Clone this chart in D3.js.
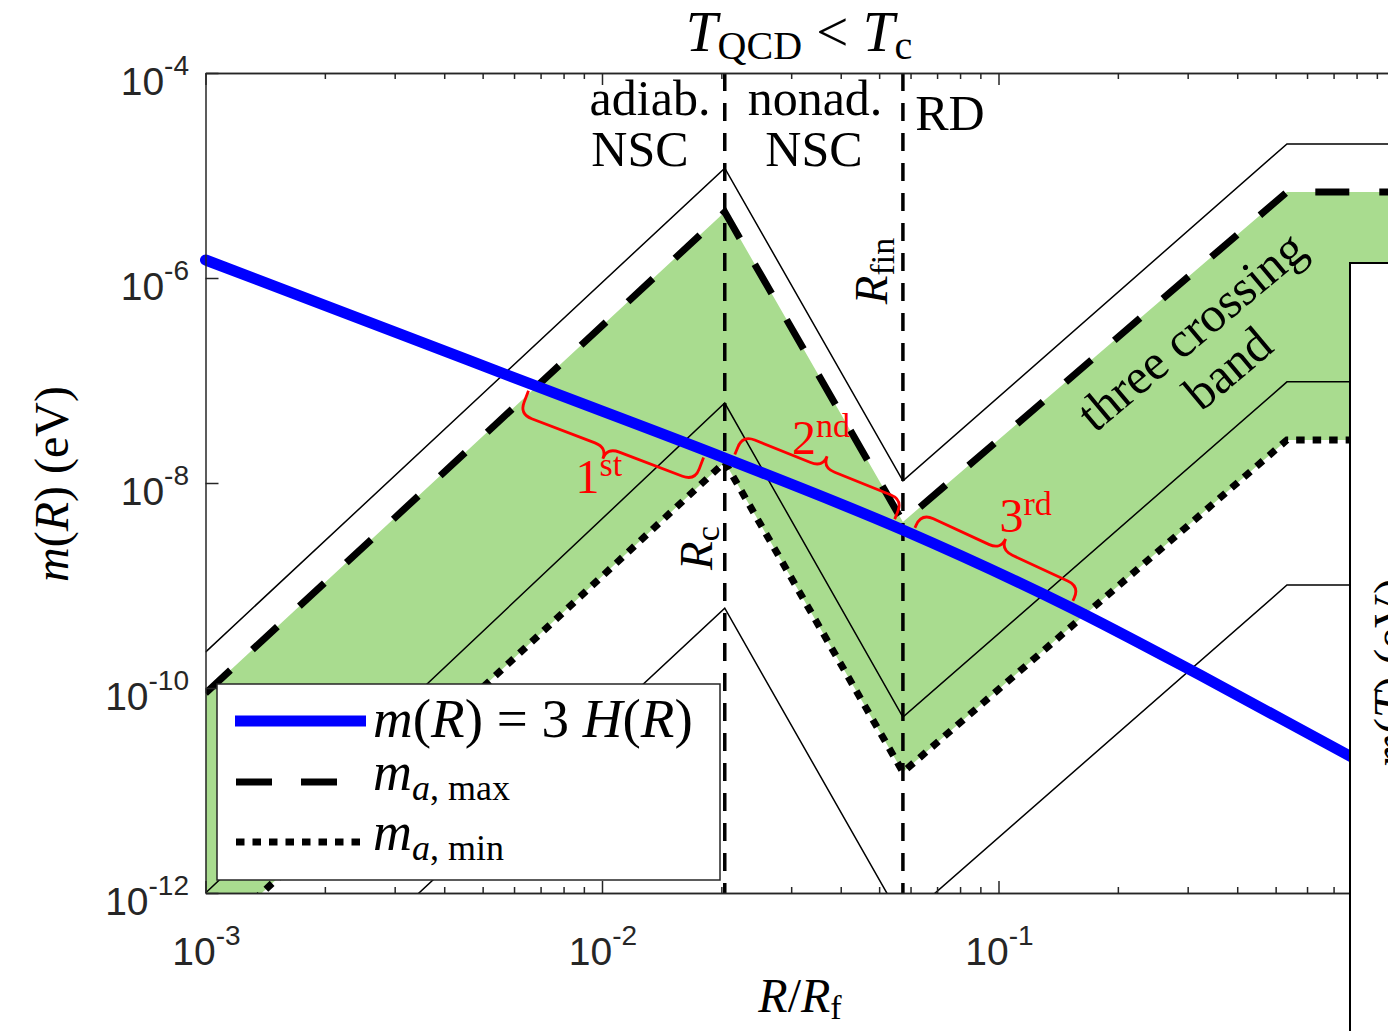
<!DOCTYPE html>
<html>
<head>
<meta charset="utf-8">
<script src="https://cdn.jsdelivr.net/npm/d3@7"></script>
<style>
  body { margin: 0; background: #fff; }
  svg { display: block; }
</style>
</head>
<body>
<svg id="chart" width="1388" height="1031"></svg>
<script>
// ---- tick marks ----
const xTickValues = [1e-3, 1e-2, 1e-1];
const xTickExponents = ["-3", "-2", "-1"];
const yTickValues = [1e-4, 1e-6, 1e-8, 1e-10, 1e-12];
const yTickExponents = ["-4", "-6", "-8", "-10", "-12"];

// ---- characteristic radii (in units of R_f) ----
const R_c = 0.0204;
const R_fin = 0.0574;
const R_sat = 0.534;
const kinkR = [1e-3, R_c, R_fin, R_sat, 1];

// ---- axion mass bounds and guide curves at the kink radii (eV) ----
const mMax = [8.9e-11, 4.4e-6, 4.17e-9, 6.9e-6, 6.9e-6];
const mMin = [3.08e-13, 1.6e-8, 1.51e-11, 2.63e-8, 2.63e-8];
const guideUpper = [2.24e-10, 1.18e-5, 1.05e-8, 2.03e-5, 2.03e-5];
const guideMiddle = [1.0e-12, 6.03e-8, 5.2e-11, 9.7e-8, 9.7e-8];
const guideLower = [1.15e-14, 6.0e-10, 5.3e-13, 1.01e-9, 1.01e-9];

// ---- m(R) = 3 H(R) ----
const hubbleR = [1e-3, 3.1e-3, 6.6e-3, 0.0204, 0.0574, 0.151, 0.322, 0.769, 1];
const hubbleM = [1.50e-6, 2.84e-7, 9.25e-8, 1.75e-8, 3.48e-9, 6.17e-10, 1.34e-10, 2.17e-11, 1.26e-11];

// ---- crossing braces along the 3H line ----
const braceNames = ["1", "2", "3"];
const braceSups = ["st", "nd", "rd"];
const braceStartR = [6.62e-3, 0.0213, 0.0605];
const braceEndR = [0.0183, 0.0539, 0.1514];
const braceSide = ["below", "above", "above"];

// ---------------------------------------------------------------
const svg = d3.select("#chart");
const plotL = 205.5, plotR = 1395, plotT = 73, plotB = 893;
const x = d3.scaleLog().domain([1e-3, 1]).range([plotL, plotR]);
const y = d3.scaleLog().domain([1e-12, 1e-4]).range([plotB, plotT]);

const serif = "'Liberation Serif','Times New Roman',serif";
const sans = "'Liberation Sans',Arial,Helvetica,sans-serif";
const axisColor = "#262626";
const bandGreen = "#a9dc8f";

svg.append("rect").attr("width", 1388).attr("height", 1031).attr("fill", "#fff");

svg.append("defs").append("clipPath").attr("id", "plotClip")
  .append("rect").attr("x", plotL).attr("y", plotT)
  .attr("width", plotR - plotL).attr("height", plotB - plotT);

const plot = svg.append("g").attr("clip-path", "url(#plotClip)");

// shaded band between the upper and lower mass bound
const band = kinkR.map((r, i) => ({ r, hi: mMax[i], lo: mMin[i] }));
plot.append("path").datum(band)
  .attr("d", d3.area().x(d => x(d.r)).y0(d => y(d.lo)).y1(d => y(d.hi)))
  .attr("fill", bandGreen);

const kinkLine = d3.line().x(d => x(d[0])).y(d => y(d[1]));
const pairs = arr => kinkR.map((r, i) => [r, arr[i]]);

// thin guide curves
[guideUpper, guideMiddle, guideLower].forEach(g => {
  plot.append("path").datum(pairs(g)).attr("d", kinkLine)
    .attr("fill", "none").attr("stroke", "#000").attr("stroke-width", 1.5);
});

// vertical markers at R_c and R_fin
[R_c, R_fin].forEach(r => {
  plot.append("line").attr("x1", x(r)).attr("x2", x(r))
    .attr("y1", plotT).attr("y2", plotB)
    .attr("stroke", "#000").attr("stroke-width", 3.5)
    .attr("stroke-dasharray", "18,12");
});

// bounds
plot.append("path").datum(pairs(mMax)).attr("d", kinkLine)
  .attr("fill", "none").attr("stroke", "#000").attr("stroke-width", 7)
  .attr("stroke-dasharray", "34,30");
plot.append("path").datum(pairs(mMin)).attr("d", kinkLine)
  .attr("fill", "none").attr("stroke", "#000").attr("stroke-width", 7)
  .attr("stroke-dasharray", "8.5,8");

// 3H line
const hubble = hubbleR.map((r, i) => [r, hubbleM[i]]);
svg.append("path").datum(hubble)
  .attr("d", d3.line().x(d => x(d[0])).y(d => y(d[1])).curve(d3.curveMonotoneX))
  .attr("fill", "none").attr("stroke", "#0000ff").attr("stroke-width", 11)
  .attr("stroke-linecap", "round");

// ---- axes ----
const minorX = [];
for (let e = -3; e < 0; e++) for (let k = 2; k <= 9; k++) minorX.push(k * Math.pow(10, e));

function styleAxis(g) {
  g.selectAll("path.domain").attr("stroke", axisColor).attr("stroke-width", 1.5);
  g.selectAll(".tick line").attr("stroke", axisColor).attr("stroke-width", 1.5);
  g.selectAll(".tick text").remove();
}
const axBottom = svg.append("g").attr("transform", `translate(0,${plotB})`)
  .call(d3.axisBottom(x).tickValues(xTickValues).tickSizeInner(-12).tickSizeOuter(0).tickFormat(""));
styleAxis(axBottom);
const axBottomMinor = svg.append("g").attr("transform", `translate(0,${plotB})`)
  .call(d3.axisBottom(x).tickValues(minorX).tickSizeInner(-6).tickSizeOuter(0).tickFormat(""));
styleAxis(axBottomMinor);
const axTop = svg.append("g").attr("transform", `translate(0,${plotT})`)
  .call(d3.axisTop(x).tickValues(xTickValues).tickSizeInner(-12).tickSizeOuter(0).tickFormat(""));
styleAxis(axTop);
const axTopMinor = svg.append("g").attr("transform", `translate(0,${plotT})`)
  .call(d3.axisTop(x).tickValues(minorX).tickSizeInner(-6).tickSizeOuter(0).tickFormat(""));
styleAxis(axTopMinor);
const axLeft = svg.append("g").attr("transform", `translate(${plotL},0)`)
  .call(d3.axisLeft(y).tickValues(yTickValues).tickSizeInner(-13).tickSizeOuter(0).tickFormat(""));
styleAxis(axLeft);

// power-of-ten labels
function powerLabel(sel, exp) {
  sel.append("tspan").text("10").attr("font-size", 39);
  sel.append("tspan").text(exp).attr("font-size", 28).attr("dy", -20);
}
xTickValues.forEach((v, i) => {
  svg.append("text").attr("x", x(v) + 1).attr("y", 965)
    .attr("text-anchor", "middle").attr("font-family", sans).attr("fill", axisColor)
    .call(powerLabel, xTickExponents[i]);
});
yTickValues.forEach((v, i) => {
  svg.append("text").attr("x", 189).attr("y", y(v) + 22)
    .attr("text-anchor", "end").attr("font-family", sans).attr("fill", axisColor)
    .call(powerLabel, yTickExponents[i]);
});

// rich text helper: parts = [text, {italic, size, dy}]
function rich(sel, parts, base) {
  parts.forEach(([t, o]) => {
    const ts = sel.append("tspan").text(t).attr("font-size", (o && o.size) || base);
    if (o && o.italic) ts.attr("font-style", "italic");
    if (o && o.dy) ts.attr("dy", o.dy);
  });
}
function serifText(px, py, parts, base, anchor, transform) {
  const t = svg.append("text").attr("font-family", serif).attr("fill", "#000")
    .attr("text-anchor", anchor || "middle");
  if (transform) t.attr("transform", transform); else t.attr("x", px).attr("y", py);
  rich(t, parts, base);
  return t;
}

// axis titles
serifText(0, 0, [["m", { italic: true }], ["("], ["R", { italic: true }], [") (eV)"]], 48,
  "middle", "translate(68,484) rotate(-90)");
serifText(800, 1012, [["R", { italic: true }], ["/"], ["R", { italic: true }], ["f", { size: 34, dy: 7 }]], 48);

// title
serifText(799, 51, [["T", { italic: true }], ["QCD", { size: 40, dy: 8 }], [" < ", { dy: -8 }],
  ["T", { italic: true }], ["c", { size: 40, dy: 8 }]], 57);

// region labels
serifText(650, 115, [["adiab."]], 50);
serifText(640, 166, [["NSC"]], 50);
serifText(815, 115, [["nonad."]], 50);
serifText(814, 166, [["NSC"]], 50);
serifText(950, 130, [["RD"]], 50);

// R_c and R_fin markers
serifText(0, 0, [["R", { italic: true }], ["c", { size: 34, dy: 7 }]], 47,
  "middle", `translate(${x(R_c) - 13},548) rotate(-90)`);
serifText(0, 0, [["R", { italic: true }], ["fin", { size: 34, dy: 7 }]], 47,
  "middle", `translate(${x(R_fin) - 16},271) rotate(-90)`);

// band caption
const cap = svg.append("text").attr("font-family", serif).attr("font-size", 50)
  .attr("text-anchor", "middle").attr("transform", "translate(1193,333) rotate(-40)");
cap.append("tspan").attr("x", 0).attr("y", 14).text("three crossing");
cap.append("tspan").attr("x", 4).attr("y", 66).text("band");

// ---- braces ----
const hubblePx = hubble.map(d => [x(d[0]), y(d[1])]);
function lineAt(px) {
  for (let i = 0; i < hubblePx.length - 1; i++) {
    const a = hubblePx[i], b = hubblePx[i + 1];
    if (px >= a[0] && px <= b[0]) {
      const t = (px - a[0]) / (b[0] - a[0]);
      return [px, a[1] + t * (b[1] - a[1])];
    }
  }
  return hubblePx[hubblePx.length - 1];
}
const braceDepth = [44, 40, 35];
const labelOffset = [[-4, 34], [-6, -2], [20, -7]];
braceNames.forEach((name, i) => {
  const p0 = lineAt(x(braceStartR[i])), p1 = lineAt(x(braceEndR[i]));
  const dx = p1[0] - p0[0], dy = p1[1] - p0[1];
  const L = Math.hypot(dx, dy);
  const ux = dx / L, uy = dy / L;
  let nx = -uy, ny = ux;                 // points below the line
  if (braceSide[i] === "above") { nx = -nx; ny = -ny; }
  const P = (u, v) => [p0[0] + u * ux + v * nx, p0[1] + u * uy + v * ny];
  const e = 7, T = braceDepth[i], D = T - 12, r = 13, m = L / 2;
  const f = p => p.join(",");
  const d = `M${f(P(0, e))}L${f(P(0, D - r))}Q${f(P(0, D))} ${f(P(r, D))}` +
    `L${f(P(m - r, D))}Q${f(P(m, D))} ${f(P(m, T))}` +
    `Q${f(P(m, D))} ${f(P(m + r, D))}L${f(P(L - r, D))}` +
    `Q${f(P(L, D))} ${f(P(L, D - r))}L${f(P(L, e))}`;
  svg.append("path").attr("d", d).attr("fill", "none")
    .attr("stroke", "#ff0000").attr("stroke-width", 2.8);
  const tip = P(m, T);
  const t = svg.append("text").attr("x", tip[0] + labelOffset[i][0]).attr("y", tip[1] + labelOffset[i][1])
    .attr("text-anchor", "middle").attr("font-family", serif).attr("fill", "#ff0000");
  t.append("tspan").text(name).attr("font-size", 48);
  t.append("tspan").text(braceSups[i]).attr("font-size", 34).attr("dy", -17);
});

// ---- legend ----
const lg = svg.append("g");
lg.append("rect").attr("x", 217).attr("y", 684).attr("width", 503).attr("height", 196)
  .attr("fill", "#fff").attr("stroke", axisColor).attr("stroke-width", 1.5);
lg.append("line").attr("x1", 235).attr("x2", 366).attr("y1", 721).attr("y2", 721)
  .attr("stroke", "#0000ff").attr("stroke-width", 11);
lg.append("line").attr("x1", 236).attr("x2", 366).attr("y1", 782).attr("y2", 782)
  .attr("stroke", "#000").attr("stroke-width", 7).attr("stroke-dasharray", "36,29");
lg.append("line").attr("x1", 236).attr("x2", 366).attr("y1", 842).attr("y2", 842)
  .attr("stroke", "#000").attr("stroke-width", 7).attr("stroke-dasharray", "8.5,8");
serifText(373, 737, [["m", { italic: true }], ["("], ["R", { italic: true }], [") = 3 "],
  ["H", { italic: true }], ["("], ["R", { italic: true }], [")"]], 55, "start");
serifText(373, 790, [["m", { italic: true }], ["a", { italic: true, size: 36, dy: 10 }], [", max", { size: 36 }]], 54, "start");
serifText(373, 850, [["m", { italic: true }], ["a", { italic: true, size: 36, dy: 10 }], [", min", { size: 36 }]], 54, "start");

// ---- neighbouring panel edge ----
svg.append("rect").attr("x", 1350).attr("y", 263).attr("width", 60).attr("height", 800)
  .attr("fill", "#fff");
svg.append("path").attr("d", "M1350,1031V263H1400").attr("fill", "none")
  .attr("stroke", "#000").attr("stroke-width", 2);
serifText(0, 0, [["m", { italic: true }], ["("], ["T", { italic: true }], [") (eV)"]], 47,
  "middle", "translate(1406,673) rotate(-90)");
</script>
</body>
</html>
